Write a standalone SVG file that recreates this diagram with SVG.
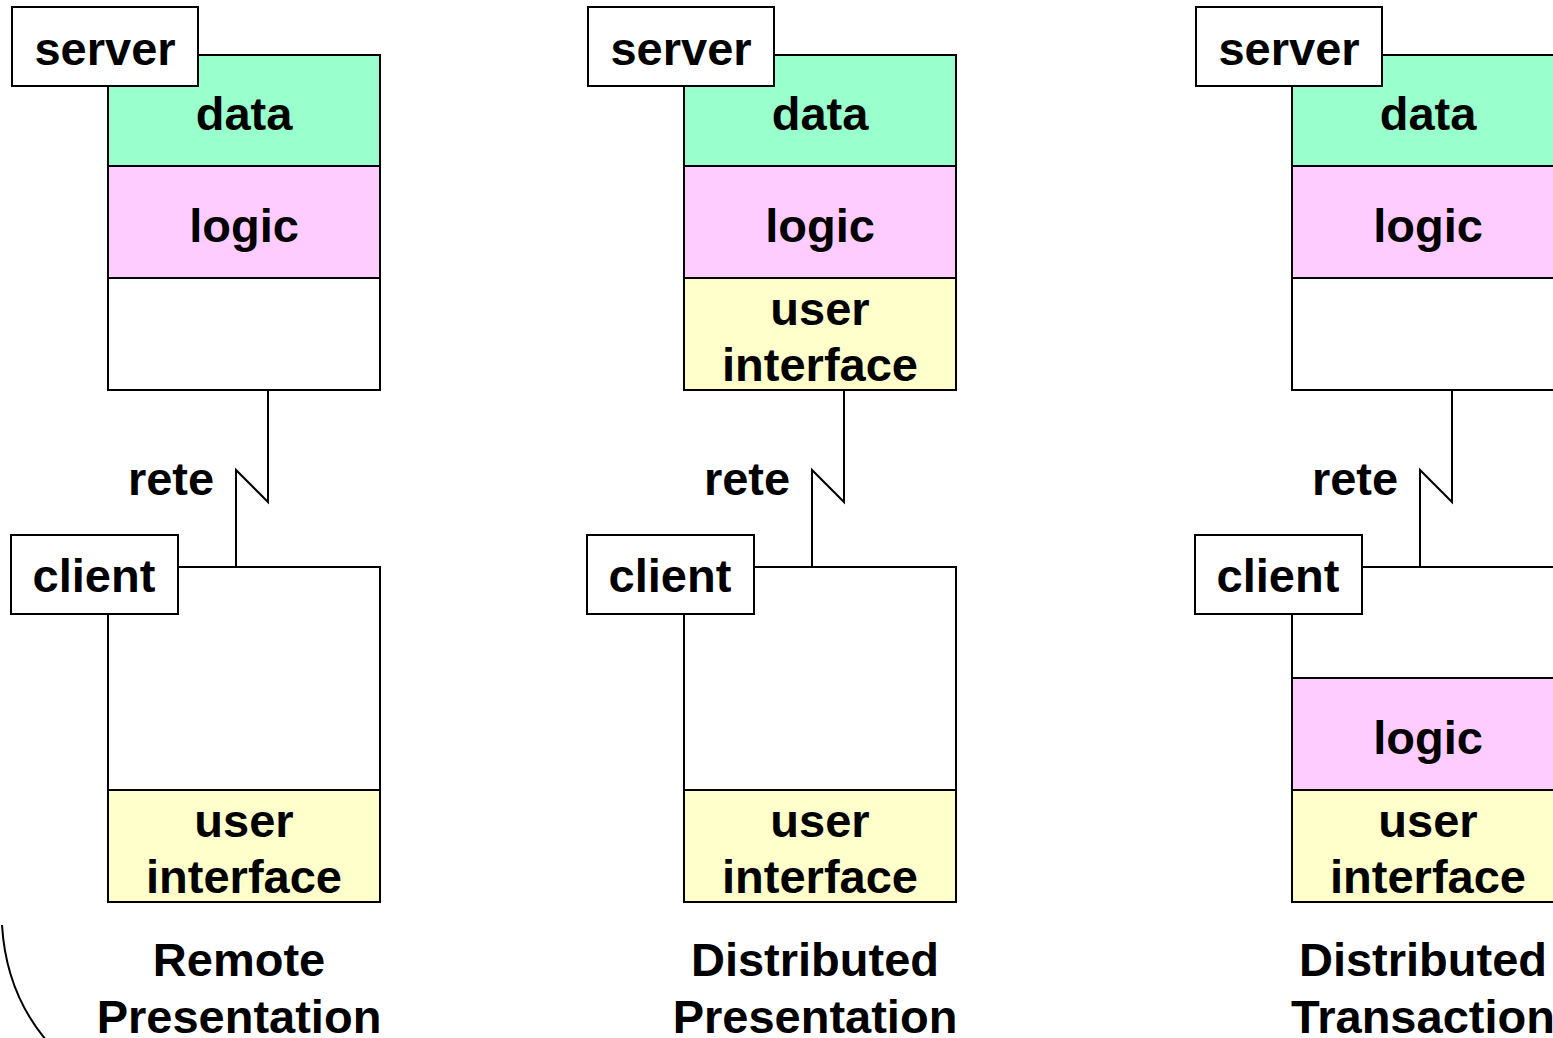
<svg xmlns="http://www.w3.org/2000/svg" width="1553" height="1038" viewBox="0 0 1553 1038">
  <style>
    .box { stroke: #000; stroke-width: 2; }
    .data { fill: #99ffcc; }
    .logic { fill: #ffccff; }
    .ui { fill: #ffffcc; }
    .blank { fill: #ffffff; }
    .tag { fill: #ffffff; stroke: #000; stroke-width: 2; }
    .wire { fill: none; stroke: #000; stroke-width: 2; }
    text { font-family: "Liberation Sans", Arial, sans-serif; font-weight: bold; font-size: 47px; fill: #000; text-anchor: middle; }
  </style>
  <defs>
    <!-- server tower: data / logic / third layer varies -->
    <g id="serverTop">
      <rect class="box data" x="0" y="55" width="272" height="111"/>
      <rect class="box logic" x="0" y="166" width="272" height="112"/>
      <text x="136" y="130">data</text>
      <text x="136" y="242">logic</text>
    </g>
  </defs>

  <!-- decorative arc at lower left -->
  <path class="wire" d="M 2 925 Q 6 992 46 1040"/>

  <!-- network links -->
  <g id="connectors">
    <polyline class="wire" points="268,390 268,502 236,470 236,567"/>
    <polyline class="wire" points="844,390 844,502 812,470 812,567"/>
    <polyline class="wire" points="1452,390 1452,502 1420,470 1420,567"/>
  </g>

  <!-- Column 1: Remote Presentation -->
  <g id="server1">
    <g transform="translate(108,0)">
      <use href="#serverTop"/>
      <rect class="box blank" x="0" y="278" width="272" height="112"/>
    </g>
    <rect class="tag" x="12" y="7" width="186" height="79"/>
    <text x="105" y="65">server</text>
  </g>
  <g id="client1">
    <rect class="box blank" x="108" y="567" width="272" height="223"/>
    <rect class="box ui" x="108" y="790" width="272" height="112"/>
    <text x="244" y="837">user</text>
    <text x="244" y="893">interface</text>
    <rect class="tag" x="11" y="535" width="167" height="79"/>
    <text x="94" y="592">client</text>
  </g>
  <text x="171" y="495">rete</text>
  <text x="239" y="976">Remote</text>
  <text x="239" y="1033">Presentation</text>

  <!-- Column 2: Distributed Presentation -->
  <g id="server2">
    <g transform="translate(684,0)">
      <use href="#serverTop"/>
      <rect class="box ui" x="0" y="278" width="272" height="112"/>
      <text x="136" y="325">user</text>
      <text x="136" y="381">interface</text>
    </g>
    <rect class="tag" x="588" y="7" width="186" height="79"/>
    <text x="681" y="65">server</text>
  </g>
  <g id="client2">
    <rect class="box blank" x="684" y="567" width="272" height="223"/>
    <rect class="box ui" x="684" y="790" width="272" height="112"/>
    <text x="820" y="837">user</text>
    <text x="820" y="893">interface</text>
    <rect class="tag" x="587" y="535" width="167" height="79"/>
    <text x="670" y="592">client</text>
  </g>
  <text x="747" y="495">rete</text>
  <text x="815" y="976">Distributed</text>
  <text x="815" y="1033">Presentation</text>

  <!-- Column 3: Distributed Transaction -->
  <g id="server3">
    <g transform="translate(1292,0)">
      <use href="#serverTop"/>
      <rect class="box blank" x="0" y="278" width="272" height="112"/>
    </g>
    <rect class="tag" x="1196" y="7" width="186" height="79"/>
    <text x="1289" y="65">server</text>
  </g>
  <g id="client3">
    <rect class="box blank" x="1292" y="567" width="272" height="111"/>
    <rect class="box logic" x="1292" y="678" width="272" height="112"/>
    <rect class="box ui" x="1292" y="790" width="272" height="112"/>
    <text x="1428" y="754">logic</text>
    <text x="1428" y="837">user</text>
    <text x="1428" y="893">interface</text>
    <rect class="tag" x="1195" y="535" width="167" height="79"/>
    <text x="1278" y="592">client</text>
  </g>
  <text x="1355" y="495">rete</text>
  <text x="1423" y="976">Distributed</text>
  <text x="1423" y="1033">Transaction</text>
</svg>
